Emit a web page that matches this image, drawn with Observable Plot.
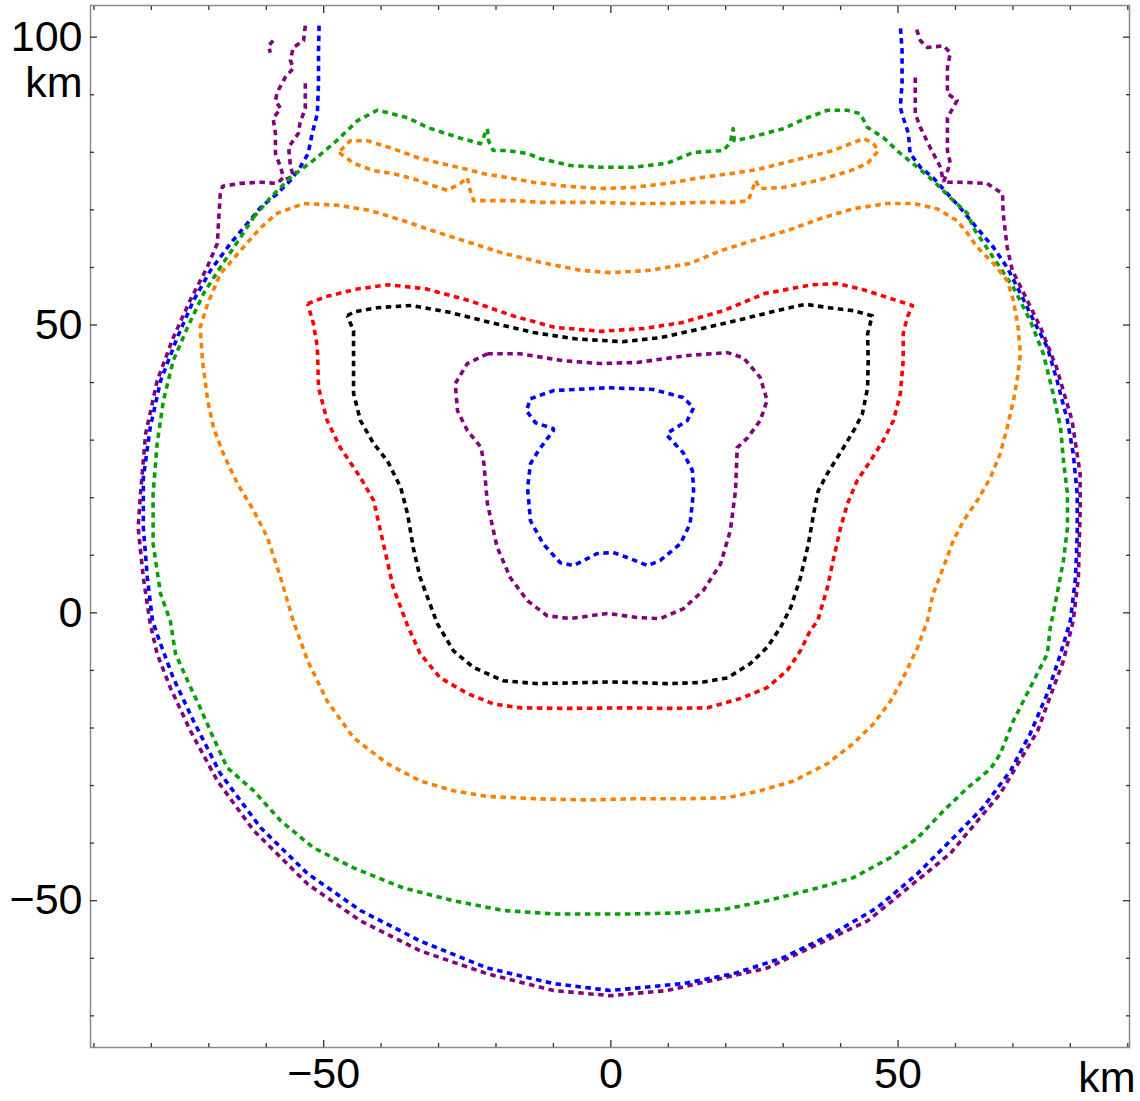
<!DOCTYPE html>
<html>
<head>
<meta charset="utf-8">
<script src="https://cdn.jsdelivr.net/npm/d3@7"></script>
<script src="https://cdn.jsdelivr.net/npm/@observablehq/plot@0.6"></script>
<style>
  html, body { margin: 0; padding: 0; background: #fff; }
  #chart svg { display: block; }
</style>
</head>
<body>
<div id="chart"></div>
<script>
// Contour lines in the (x, z) plane, both axes in km.
const BLUE = "#0000ff", PURPLE = "#800080", RED = "#ff0000",
      BLACK = "#000000", ORANGE = "#ff8000", GREEN = "#0a9f0a";

const xMajorTicks = [-50, 0, 50];
const yMajorTicks = [-50, 0, 50, 100];
const xMinorTicks = [-90, -80, -70, -60, -40, -30, -20, -10, 10, 20, 30, 40, 60, 70, 80, 90];
const yMinorTicks = [-70, -60, -40, -30, -20, -10, 10, 20, 30, 40, 60, 70, 80, 90];

// Innermost blue contour (closed)
const blueInner = [
  [-14.0,37.2],[-10.0,38.6],[-0.6,39.1],[7.4,38.8],[12.6,37.4],[14.4,35.6],[13.3,33.4],[10.0,31.3],
  [9.8,30.8],[12.6,27.8],[14.2,24.7],[14.4,21.2],[13.8,15.5],[12.1,12.0],[8.6,9.1],[6.4,8.2],
  [3.4,9.4],[0.4,10.5],[-2.4,10.3],[-6.5,8.2],[-8.8,8.7],[-11.8,12.0],[-14.0,16.0],[-14.5,21.7],
  [-14.0,25.9],[-12.6,28.2],[-10.0,31.7],[-10.0,32.0],[-13.1,33.0],[-14.7,35.1]
];

// Inner purple contour (closed)
const purpleInner = [
  [-21.5,45.0],[-25.0,43.3],[-27.1,39.8],[-26.7,35.1],[-25.0,31.7],[-22.6,28.7],[-22.1,25.9],[-21.5,19.0],
  [-19.8,11.4],[-17.5,6.1],[-14.5,2.1],[-11.1,-0.5],[-7.1,-1.0],[-0.6,-0.1],[4.6,-0.8],[8.6,-1.0],
  [12.6,0.7],[16.1,3.9],[19.1,8.5],[20.8,14.3],[21.7,21.2],[22.0,28.7],[23.8,30.4],[26.0,33.4],
  [27.2,36.9],[26.0,40.9],[23.1,44.3],[20.3,45.2],[13.3,44.7],[4.6,43.5],[-1.8,43.3],[-8.3,43.8],[-15.8,45.0]
];

// Black contour (closed)
const blackLine = [
  [-45.9,51.6],[-44.7,52.3],[-40.7,53.0],[-34.7,53.4],[-28.1,52.2],[-20.8,50.4],[-13.5,48.7],[-6.2,47.6],
  [2.0,47.1],[8.6,47.8],[15.9,49.4],[23.2,51.1],[30.6,52.9],[33.9,53.6],[38.0,53.0],[42.2,52.5],
  [45.5,51.6],[44.7,48.5],[44.8,43.8],[44.7,39.1],[43.8,34.6],[42.6,32.2],[40.5,28.7],[37.7,24.2],
  [36.1,21.2],[35.3,17.2],[34.4,12.0],[33.0,6.1],[31.3,0.9],[29.5,-2.6],[27.2,-6.0],[24.3,-8.8],
  [20.3,-11.3],[15.6,-12.1],[9.8,-12.3],[3.9,-12.1],[-0.6,-12.0],[-4.1,-12.1],[-12.8,-12.3],[-18.7,-11.8],
  [-23.9,-9.5],[-27.4,-6.6],[-30.2,-1.9],[-33.2,6.1],[-34.4,11.3],[-35.4,17.2],[-36.6,21.8],[-38.9,26.4],
  [-41.3,29.4],[-43.6,33.4],[-44.8,38.1],[-44.8,43.8],[-44.8,49.0]
];

// Red contour (closed)
const redLine = [
  [-52.8,53.7],[-49.7,54.9],[-44.5,56.2],[-38.7,57.0],[-32.3,56.3],[-24.5,54.2],[-17.1,51.6],[-9.8,49.6],
  [-1.7,48.9],[5.7,49.4],[12.3,50.4],[19.6,52.5],[26.9,55.5],[35.1,57.0],[39.4,57.2],[43.4,56.3],
  [48.1,54.8],[52.5,53.4],[51.6,51.3],[50.9,48.5],[50.9,43.8],[50.4,38.1],[49.2,33.4],[47.4,29.9],
  [45.2,26.4],[42.9,23.0],[41.2,19.0],[40.0,14.8],[38.7,9.1],[37.7,4.4],[36.0,-1.4],[34.7,-3.1],
  [33.0,-6.6],[30.7,-10.0],[27.2,-13.0],[22.5,-14.9],[16.8,-16.5],[9.8,-16.6],[2.9,-16.5],[-7.1,-16.6],
  [-15.8,-16.5],[-20.5,-15.8],[-25.0,-14.0],[-29.7,-11.3],[-33.2,-7.1],[-35.4,-2.2],[-37.9,4.4],[-39.6,12.0],
  [-41.3,19.5],[-43.6,23.5],[-47.1,28.7],[-49.4,33.4],[-50.9,39.1],[-51.1,46.1],[-51.8,50.3]
];

// Large orange contour (closed)
const orangeOuter = [
  [-0.1,59.1],[-5.3,59.5],[-12.3,60.9],[-19.2,62.6],[-24.5,64.3],[-30.2,66.1],[-36.1,68.1],[-41.9,69.9],
  [-47.6,70.8],[-53.5,71.1],[-58.1,69.4],[-61.0,66.9],[-64.5,62.9],[-68.0,58.9],[-70.2,53.7],[-71.5,49.6],
  [-71.1,43.8],[-70.2,36.9],[-69.2,32.2],[-67.5,27.7],[-65.0,22.4],[-62.2,17.8],[-59.8,13.1],[-57.5,6.1],
  [-55.3,-1.4],[-52.8,-8.3],[-49.4,-15.3],[-44.8,-21.7],[-38.9,-26.2],[-33.2,-29.2],[-27.4,-30.9],[-21.5,-31.9],
  [-12.8,-32.3],[-4.1,-32.5],[3.9,-32.3],[12.6,-32.3],[20.3,-32.1],[26.0,-30.9],[31.8,-29.2],[37.7,-26.2],
  [42.2,-22.7],[45.7,-19.3],[48.7,-15.3],[50.9,-11.3],[53.4,-6.0],[55.1,-1.4],[56.1,3.3],[57.9,7.9],
  [59.6,12.5],[61.4,16.0],[63.8,19.5],[66.1,23.5],[67.8,27.7],[69.0,32.2],[70.1,36.9],[70.8,40.9],
  [71.3,45.0],[70.9,49.6],[70.1,54.2],[69.0,57.7],[66.6,60.7],[63.8,63.5],[62.1,65.9],[60.3,68.1],
  [56.8,70.2],[52.7,71.1],[48.1,71.1],[42.2,70.2],[36.5,68.5],[30.7,66.4],[24.8,64.7],[19.1,62.9],
  [13.8,60.7],[6.9,59.5]
];

// Narrow orange band near the top (closed)
const orangeTopLoop = [
  [-47.1,80.3],[-45.4,82.0],[-42.4,82.0],[-38.4,80.8],[-33.7,79.1],[-29.7,78.1],[-25.7,77.2],[-22.2,76.3],
  [-18.0,75.6],[-13.5,74.8],[-7.6,74.1],[-1.8,73.7],[3.9,73.9],[9.8,74.6],[15.6,75.6],[20.8,76.3],
  [25.5,77.0],[33.0,78.9],[38.7,80.3],[44.0,82.4],[45.7,81.5],[46.6,80.3],
  [44.7,78.1],[41.7,76.8],[36.0,75.1],[30.0,73.9],[26.0,73.7],[25.2,75.1],[24.6,73.4],[23.9,71.6],
  [21.3,71.3],[15.6,71.3],[9.8,71.1],[3.9,71.1],[-1.8,71.3],[-7.6,71.3],[-12.3,71.3],[-16.3,71.6],
  [-20.5,71.6],[-23.9,71.6],[-24.5,73.4],[-25.0,75.6],[-26.2,74.6],[-28.5,73.4],[-30.9,74.2],[-34.4,75.4],
  [-37.9,76.3],[-41.3,76.8],[-44.8,78.1],[-47.1,79.8]
];

// Green contour (closed)
const greenLine = [
  [-62.2,68.7],[-59.3,72.1],[-55.8,75.6],[-51.8,78.6],[-48.3,81.5],[-44.1,85.5],[-40.7,87.3],[-38.9,86.9],
  [-35.4,86.0],[-31.9,84.3],[-26.7,82.6],[-22.7,81.5],[-21.5,84.1],[-21.3,82.0],[-20.5,80.3],[-18.0,80.3],
  [-14.5,79.8],[-12.3,78.9],[-7.1,77.7],[-1.8,77.4],[3.9,77.4],[9.8,78.1],[14.4,80.0],[19.6,80.3],
  [20.8,81.7],[21.3,84.1],[21.5,82.0],[24.3,82.6],[30.0,84.1],[34.2,86.0],[37.7,87.3],[41.2,87.3],
  [43.4,86.7],[44.7,84.3],[47.4,82.6],[50.4,79.8],[53.4,77.4],[56.1,75.1],[59.1,72.1],[62.1,69.4],
  [63.1,66.9],[66.6,61.7],[70.1,56.5],[73.0,50.8],[75.3,45.0],[77.0,38.1],[78.3,32.2],[78.8,26.4],
  [79.5,20.7],[79.5,14.8],[78.8,9.1],[77.7,3.3],[76.5,-2.6],[76.0,-7.1],[73.0,-13.0],[70.1,-18.7],
  [67.8,-24.5],[66.1,-27.1],[62.1,-30.4],[57.9,-34.4],[53.4,-39.1],[48.7,-42.5],[42.2,-46.0],[36.0,-47.8],
  [27.2,-50.0],[20.3,-51.4],[12.6,-52.1],[3.9,-52.3],[-1.8,-52.3],[-10.0,-52.3],[-18.7,-51.7],[-27.4,-50.0],
  [-36.1,-47.8],[-44.8,-44.3],[-51.8,-40.8],[-57.5,-36.1],[-62.2,-30.9],[-66.8,-26.9],[-69.2,-21.7],[-71.5,-16.5],
  [-73.7,-11.8],[-75.8,-7.1],[-76.7,-1.4],[-78.4,3.3],[-79.7,12.0],[-79.7,20.7],[-79.0,29.4],[-77.9,36.9],
  [-76.2,43.8],[-73.7,49.6],[-70.9,55.5],[-68.0,60.0],[-64.5,65.2]
];

// Outer blue contour (open at the top edge)
const blueOuter = [
  [-50.8,102.0],[-50.9,97.7],[-50.9,92.0],[-51.1,86.7],[-52.0,83.3],[-52.7,79.8],[-54.1,77.4],[-55.8,75.1],
  [-58.1,72.8],[-61.0,70.4],[-62.4,68.7],[-66.2,64.2],[-69.7,59.5],[-72.7,54.2],[-75.5,47.8],[-78.4,40.3],
  [-80.2,32.2],[-81.4,23.5],[-81.4,14.8],[-80.7,6.1],[-79.8,-1.4],[-78.4,-5.4],[-76.2,-11.3],[-72.7,-18.7],
  [-68.0,-27.9],[-61.0,-37.3],[-52.8,-45.3],[-43.6,-51.7],[-33.2,-57.0],[-21.5,-61.7],[-10.0,-64.4],[-0.1,-65.6],
  [12.6,-64.4],[21.3,-62.7],[30.0,-59.9],[38.7,-55.7],[46.4,-51.2],[53.4,-45.3],[59.6,-39.1],[64.8,-33.8],
  [69.6,-27.4],[73.0,-21.0],[76.0,-14.0],[78.3,-7.1],[80.0,-1.4],[80.9,6.1],[81.2,13.8],[81.2,20.7],
  [80.5,27.7],[79.5,33.4],[77.7,40.3],[76.0,46.1],[73.6,50.8],[71.3,55.5],[69.0,60.0],[66.6,63.5],
  [63.1,67.6],[60.8,70.4],[58.6,72.8],[56.1,75.6],[53.9,77.4],[52.1,79.8],[51.8,83.3],[50.9,86.0],
  [50.4,87.8],[50.7,92.0],[50.7,97.7],[50.4,102.0]
];

// Outer purple contour (open at the top edge)
const purpleOuter = [
  [-53.2,102.0],[-53.5,99.4],[-55.3,98.2],[-55.8,96.0],[-55.3,94.6],[-56.7,93.0],[-58.1,90.4],[-58.4,89.0],
  [-57.5,87.6],[-58.8,85.9],[-58.4,83.3],[-58.4,79.8],[-57.5,77.4],[-57.0,75.6],[-58.1,74.6],[-61.0,74.8],
  [-64.5,74.6],[-67.6,74.1],[-68.0,72.8],[-68.3,68.1],[-68.5,64.2],[-70.3,60.0],[-73.3,54.2],[-76.2,47.8],
  [-79.0,40.3],[-81.0,31.1],[-81.9,20.7],[-82.3,14.8],[-81.4,6.1],[-80.2,-1.9],[-79.0,-7.1],[-76.7,-13.0],
  [-73.2,-20.5],[-68.5,-29.2],[-62.2,-37.8],[-52.8,-47.1],[-43.6,-53.5],[-33.2,-58.7],[-21.5,-62.7],[-10.0,-65.6],
  [-0.1,-66.5],[9.8,-65.6],[27.2,-61.7],[44.7,-53.5],[59.1,-41.8],[67.8,-31.4],[74.3,-20.5],[78.8,-8.3],
  [80.5,-1.4],[81.4,6.1],[81.7,17.8],[81.7,24.2],[80.3,33.4],[77.6,42.6],[74.8,49.6],[71.9,55.5],
  [69.9,59.5],[69.0,63.5],[68.3,69.4],[68.2,72.8],[65.5,74.6],[60.8,74.8],[57.9,74.8],[59.1,78.1],
  [58.6,80.3],[58.6,86.0],[60.3,89.0],[58.6,90.2],[58.6,94.7],[59.1,97.3],[57.9,98.5],[55.1,98.2],
  [53.9,99.4],[53.0,102.0]
];

// Short purple branches near the top corners (open)
const purpleBranchLeft = [
  [-53.2,92.0],[-53.2,87.6],[-54.1,85.2],[-54.4,83.3],[-56.1,80.9],[-55.8,77.7],[-55.3,75.9],[-57.0,75.1]
];
const purpleBranchRight = [
  [53.0,93.0],[53.0,86.7],[53.9,84.3],[55.6,80.8],[57.4,77.4],[57.9,74.8]
];
const purpleSpeckLeft = [
  [-58.8,99.4],[-59.6,98.5],[-59.3,97.3]
];

const curves = [
  {id: "purpleOuter", color: PURPLE, closed: false, pts: purpleOuter},
  {id: "purpleBranchLeft", color: PURPLE, closed: false, pts: purpleBranchLeft},
  {id: "purpleBranchRight", color: PURPLE, closed: false, pts: purpleBranchRight},
  {id: "purpleSpeckLeft", color: PURPLE, closed: false, pts: purpleSpeckLeft},
  {id: "blueOuter", color: BLUE, closed: false, pts: blueOuter},
  {id: "green", color: GREEN, closed: true, pts: greenLine},
  {id: "orangeOuter", color: ORANGE, closed: true, pts: orangeOuter},
  {id: "orangeTopLoop", color: ORANGE, closed: true, pts: orangeTopLoop},
  {id: "red", color: RED, closed: true, pts: redLine},
  {id: "black", color: BLACK, closed: true, pts: blackLine},
  {id: "purpleInner", color: PURPLE, closed: true, pts: purpleInner},
  {id: "blueInner", color: BLUE, closed: true, pts: blueInner}
];

const rows = curves.flatMap(c => {
  const pts = c.closed ? [...c.pts, c.pts[0]] : c.pts;
  return pts.map(([x, y]) => ({id: c.id, color: c.color, x, y}));
});

const fmt = d => (d < 0 ? "\u2212" + Math.abs(d) : String(d));
const FONT = 43;
const tickStroke = "#333";

const inwardTicks = (ticks, size) => [
  Plot.axisX({anchor: "bottom", ticks, tickSize: -size, fill: "none", stroke: tickStroke, strokeWidth: 1.3, label: null}),
  Plot.axisX({anchor: "top", ticks, tickSize: -size, fill: "none", stroke: tickStroke, strokeWidth: 1.3, label: null})
];
const inwardTicksY = (ticks, size) => [
  Plot.axisY({anchor: "left", ticks, tickSize: -size, fill: "none", stroke: tickStroke, strokeWidth: 1.3, label: null}),
  Plot.axisY({anchor: "right", ticks, tickSize: -size, fill: "none", stroke: tickStroke, strokeWidth: 1.3, label: null})
];

const chart = Plot.plot({
  width: 1140,
  height: 1101,
  marginLeft: 90,
  marginRight: 11,
  marginTop: 5,
  marginBottom: 54,
  x: {domain: [-90.6, 90.3]},
  y: {domain: [-75.5, 105.5]},
  color: {type: "identity"},
  style: {fontFamily: "'Liberation Sans', Arial, Helvetica, sans-serif", fontSize: FONT + "px", background: "#fff", color: "#000"},
  marks: [
    Plot.line(rows, {
      x: "x", y: "y", z: "id", stroke: "color",
      strokeWidth: 3.6, strokeDasharray: "5.5,4.5", strokeLinecap: "butt", strokeLinejoin: "round"
    }),
    Plot.frame({stroke: "#8a8a8a", strokeWidth: 1.5}),
    ...inwardTicks(xMajorTicks, 7),
    ...inwardTicks(xMinorTicks, 4),
    ...inwardTicksY(yMajorTicks, 7),
    ...inwardTicksY(yMinorTicks, 4),
    Plot.axisX({anchor: "bottom", ticks: xMajorTicks, tickSize: 0, tickPadding: 10, tickFormat: fmt, fontSize: FONT, label: null}),
    Plot.axisY({anchor: "left", ticks: yMajorTicks, tickSize: 0, tickPadding: 8, tickFormat: fmt, fontSize: FONT, label: null}),
    // unit labels
    Plot.axisY({anchor: "left", ticks: [100], tickSize: 0, tickPadding: 8, tickFormat: () => "km", dy: 46, fontSize: FONT, label: null}),
    Plot.text(["km"], {frameAnchor: "bottom-right", textAnchor: "end", lineAnchor: "top", dx: 6, dy: 14, fontSize: FONT, fill: "#000"})
  ]
});

document.getElementById("chart").appendChild(chart);
</script>
</body>
</html>
